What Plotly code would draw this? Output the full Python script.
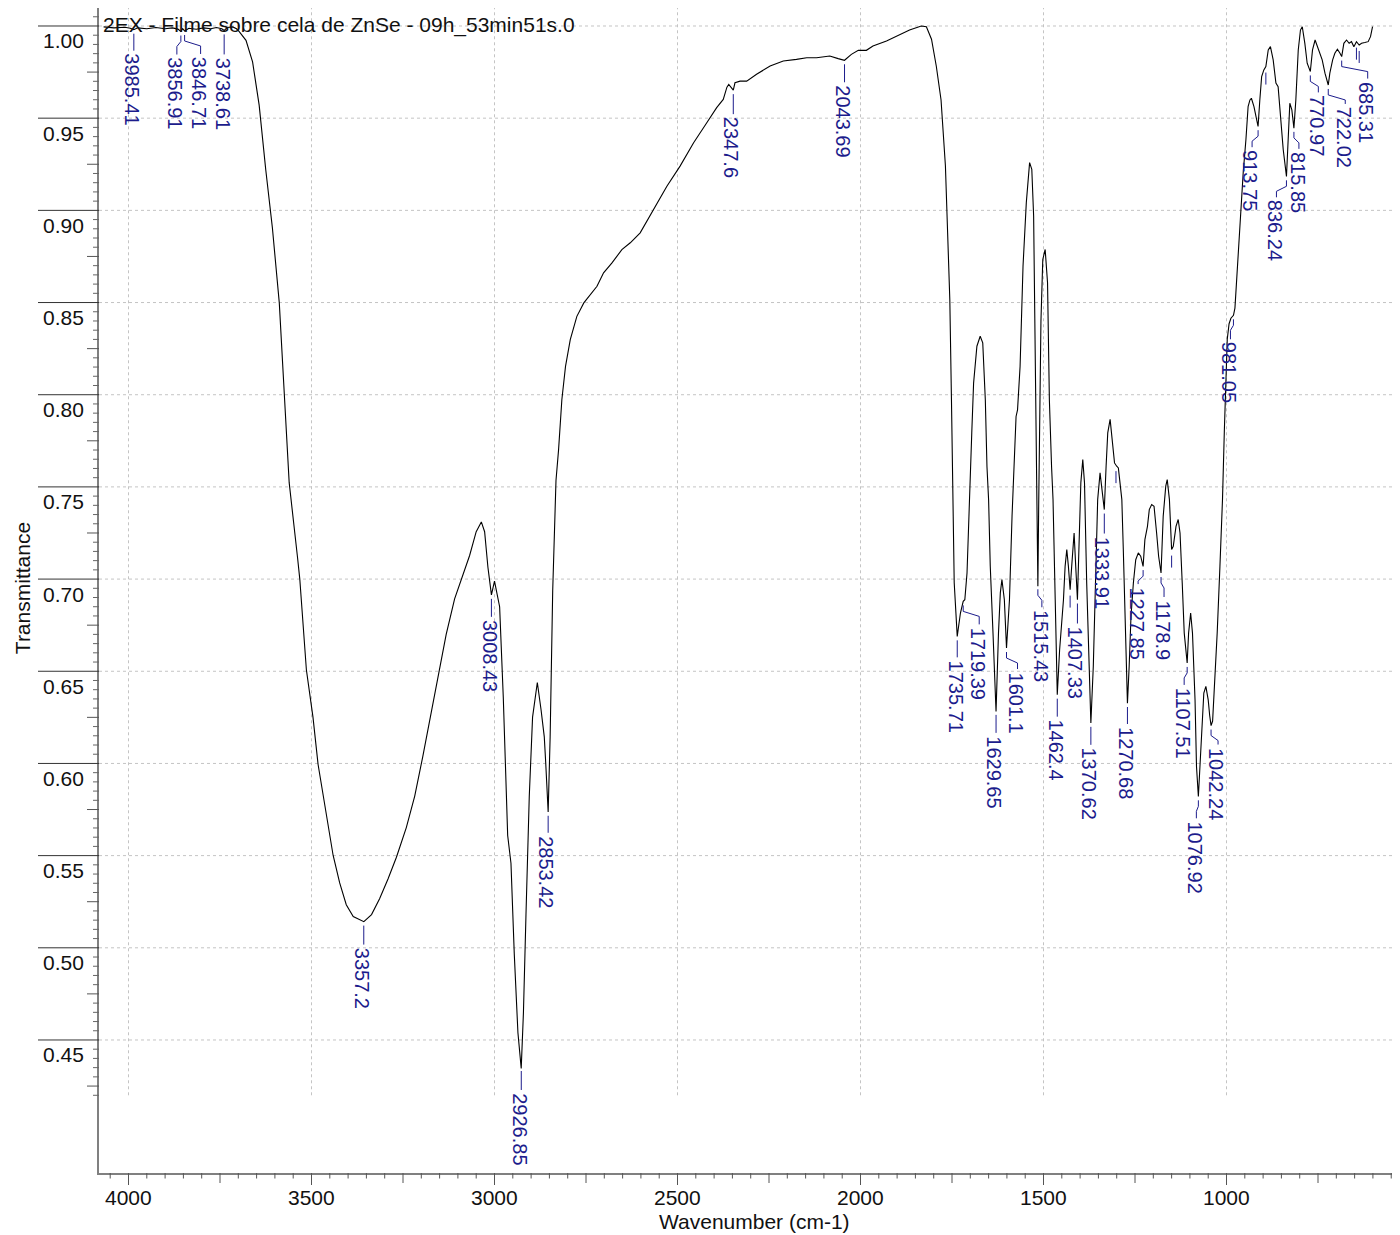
import numpy as np
import plotly.graph_objects as go

# ---------------- data ----------------
wavenumber = [4068, 4040, 4010, 3995, 3985.4, 3975, 3950, 3925, 3900, 3880, 3865, 3856.9, 3852, 3846.7,
              3835, 3815, 3795, 3775, 3760, 3745, 3738.6, 3730, 3715, 3705, 3698, 3679, 3661, 3643, 3625,
              3607, 3588, 3575, 3561, 3538, 3532, 3514, 3496, 3482, 3468, 3455, 3441, 3423, 3405, 3386,
              3357, 3336, 3314, 3291, 3268, 3241, 3218, 3196, 3173, 3150, 3132, 3109, 3086, 3068, 3050,
              3036, 3027, 3018, 3008.4, 3000, 2986, 2976, 2964, 2955, 2946, 2936, 2927, 2921, 2914, 2905,
              2896, 2883, 2873, 2864, 2860, 2853.4, 2848, 2841, 2832, 2825, 2816, 2806, 2793, 2775, 2756,
              2738, 2720, 2702, 2679, 2652, 2629, 2602, 2566, 2529, 2493, 2456, 2420, 2393, 2375, 2365,
              2360, 2355, 2347.6, 2343, 2329, 2311, 2284, 2247, 2211, 2175, 2147, 2120, 2084, 2061, 2043.7,
              2025, 2006, 1984, 1966, 1929, 1893, 1866, 1834, 1820, 1806, 1793, 1780, 1768, 1762, 1756,
              1751.5, 1748, 1744, 1735.7, 1727, 1719.4, 1715, 1709, 1703, 1696, 1691, 1682, 1673, 1666,
              1659, 1654.5, 1650, 1645.5, 1638, 1629.7, 1623, 1618, 1613.6, 1607, 1601.1, 1593, 1586, 1580,
              1575, 1571, 1564, 1556, 1547, 1538, 1532, 1527, 1523, 1520, 1518, 1515.4, 1513, 1510, 1507,
              1502, 1495.5, 1489, 1484, 1478, 1474, 1468, 1462.4, 1456, 1450, 1445.5, 1441, 1436.4, 1432,
              1427.3, 1423, 1416.4, 1412, 1407.3, 1402, 1398, 1392.7, 1388, 1382, 1375.5, 1370.6, 1364,
              1357, 1352, 1345.5, 1341, 1333.9, 1329, 1324.5, 1318, 1312, 1306, 1300, 1295.5, 1291, 1286,
              1282, 1277, 1273, 1270.7, 1266, 1261, 1254.5, 1248, 1241, 1234.5, 1227.9, 1223, 1216, 1211,
              1204.5, 1198, 1191, 1185.5, 1178.9, 1173, 1166, 1162, 1156, 1150, 1145.5, 1138, 1132, 1127,
              1121, 1115.5, 1107.5, 1103.6, 1098, 1093, 1086, 1082, 1076.9, 1073, 1068, 1062, 1056.4, 1050,
              1046, 1042.2, 1038, 1032, 1025.5, 1018, 1011, 1006, 1002, 998, 993, 988, 981, 977, 973, 968,
              962, 954.5, 947, 941, 936, 932, 925, 920, 913.8, 909, 904, 898, 892.5, 886, 880, 872.5, 865,
              859, 852.5, 845, 836.2, 831.5, 827, 821.5, 815.9, 810.6, 804, 798, 793, 786, 779.6, 771, 765,
              758, 751, 745, 738.6, 731, 722, 717.7, 710, 704, 697, 690, 685.3, 679.4, 672, 665, 658.5, 652,
              645, 637.5, 631, 622, 613, 606.6, 601]

transmittance = [0.9995, 0.9990, 0.9993, 0.9988, 0.9980, 0.9990, 0.9985, 0.9992, 0.9985, 0.9990, 0.9983,
                 0.9970, 0.9985, 0.9973, 0.9988, 0.9982, 0.9990, 0.9985, 0.9992, 0.9985, 0.9976, 0.9992,
                 0.9995, 0.9985, 0.9971, 0.9922, 0.9805, 0.9571, 0.9220, 0.8908, 0.8498, 0.8011, 0.7523,
                 0.7114, 0.7000, 0.6508, 0.6251, 0.5994, 0.5823, 0.5652, 0.5502, 0.5352, 0.5234, 0.5170,
                 0.5142, 0.5180, 0.5266, 0.5373, 0.5491, 0.5652, 0.5823, 0.6037, 0.6272, 0.6508, 0.6700,
                 0.6893, 0.7021, 0.7128, 0.7257, 0.7310, 0.7257, 0.7064, 0.6914, 0.6989, 0.6850, 0.6358,
                 0.5609, 0.5459, 0.4967, 0.4539, 0.4346, 0.4646, 0.5180, 0.5823, 0.6251, 0.6439, 0.6294,
                 0.6144, 0.6000, 0.5737, 0.6144, 0.6936, 0.7535, 0.7701, 0.7973, 0.8154, 0.8299, 0.8425,
                 0.8498, 0.8543, 0.8588, 0.8661, 0.8715, 0.8787, 0.8824, 0.8878, 0.9005, 0.9131, 0.9240,
                 0.9367, 0.9475, 0.9557, 0.9602, 0.9668, 0.9683, 0.9672, 0.9652, 0.9692, 0.9701, 0.9701,
                 0.9738, 0.9783, 0.9810, 0.9819, 0.9828, 0.9828, 0.9837, 0.9823, 0.9814, 0.9846, 0.9868,
                 0.9868, 0.9891, 0.9919, 0.9955, 0.9978, 1.0000, 0.9996, 0.9928, 0.9783, 0.9600, 0.9241,
                 0.8879, 0.8516, 0.7973, 0.7429, 0.6980, 0.6689, 0.6816, 0.6879, 0.6888, 0.7033, 0.7431,
                 0.7793, 0.8063, 0.8263, 0.8317, 0.8281, 0.7973, 0.7611, 0.7429, 0.7069, 0.6707, 0.6282,
                 0.6707, 0.6925, 0.6997, 0.6888, 0.6626, 0.6888, 0.7341, 0.7700, 0.7882, 0.7918, 0.8154,
                 0.8697, 0.9042, 0.9259, 0.9223, 0.8969, 0.8335, 0.7974, 0.7431, 0.6961, 0.7431, 0.7900,
                 0.8400, 0.8733, 0.8788, 0.8607, 0.7973, 0.7611, 0.7430, 0.6888, 0.6373, 0.6617, 0.6762,
                 0.6888, 0.7069, 0.7160, 0.7069, 0.6943, 0.7069, 0.7250, 0.7069, 0.6888, 0.7250, 0.7522,
                 0.7648, 0.7522, 0.6979, 0.6526, 0.6219, 0.6526, 0.6979, 0.7431, 0.7576, 0.7504, 0.7377,
                 0.7612, 0.7793, 0.7866, 0.7757, 0.7630, 0.7612, 0.7603, 0.7522, 0.7431, 0.7160, 0.6798,
                 0.6436, 0.6327, 0.6526, 0.6798, 0.6979, 0.7105, 0.7142, 0.7124, 0.7069, 0.7214, 0.7286,
                 0.7377, 0.7404, 0.7395, 0.7250, 0.7124, 0.7033, 0.7341, 0.7504, 0.7540, 0.7431, 0.7160,
                 0.7178, 0.7286, 0.7323, 0.7250, 0.6979, 0.6707, 0.6545, 0.6707, 0.6816, 0.6707, 0.6345,
                 0.5983, 0.5821, 0.5983, 0.6201, 0.6382, 0.6418, 0.6345, 0.6260, 0.6205, 0.6230, 0.6436,
                 0.6707, 0.7069, 0.7431, 0.7800, 0.8120, 0.8300, 0.8385, 0.8415, 0.8431, 0.8470, 0.8600,
                 0.8780, 0.9004, 0.9202, 0.9383, 0.9563, 0.9599, 0.9608, 0.9563, 0.9509, 0.9455, 0.9599,
                 0.9726, 0.9762, 0.9780, 0.9870, 0.9888, 0.9816, 0.9690, 0.9671, 0.9509, 0.9329, 0.9184,
                 0.9419, 0.9581, 0.9545, 0.9446, 0.9599, 0.9870, 0.9978, 0.9996, 0.9906, 0.9798, 0.9753,
                 0.9870, 0.9924, 0.9888, 0.9852, 0.9816, 0.9744, 0.9680, 0.9744, 0.9816, 0.9852, 0.9874,
                 0.9852, 0.9834, 0.9906, 0.9924, 0.9906, 0.9915, 0.9888, 0.9915, 0.9897, 0.9906, 0.9910,
                 0.9915, 0.9942, 0.9996]

peak_text = ["3985.41", "3856.91", "3846.71", "3738.61", "3357.2", "3008.43", "2926.85", "2853.42",
             "2347.6", "2043.69", "1735.71", "1719.39", "1629.65", "1601.1", "1515.43", "1462.4",
             "1407.33", "1370.62", "1333.91", "1270.68", "1227.85", "1178.9", "1107.51", "1076.92",
             "1042.24", "981.05", "913.75", "836.24", "815.85", "770.97", "722.02", "685.31"]

unlabeled_peaks = [1427.3, 1302.0, 1150.0, 892.5, 645.0, 637.5]

x_tick_vals = [4000, 3500, 3000, 2500, 2000, 1500, 1000]
y_tick_vals = [0.45, 0.50, 0.55, 0.60, 0.65, 0.70, 0.75, 0.80, 0.85, 0.90, 0.95, 1.00]

title_text = "2EX - Filme sobre cela de ZnSe - 09h_53min51s.0"
x_title = "Wavenumber (cm-1)"
y_title = "Transmittance"

# ---------------- label layout (pixel offsets, style) ----------------
label_dx = [0, -4, 16, 0, 0, 0, 0, 0, 0, 0, 0, 16, 0, 11, 4, 0, 0, 0, 0, 0, -5, 3, -3, -2, 7, -3,
            -6, -10, 5, 8, 17, 26]
label_top = [24, 26, 26, 27, 26, 25, 26, 24, 27, 25, 24, 26, 25, 24, 25, 25, 27, 25, 27, 24, 21, 27,
             25, 25, 22, 27, 24, 24, 24, 24, 22, 25]

X_RANGE = [4080.6, 526.0]
Y_RANGE = [0.37785, 1.00976]
GRID_BOTTOM = 0.42
BLUE = "#1c1c8c"
FONT = "Liberation Sans, Arial, Helvetica, sans-serif"

wn_asc = np.array(wavenumber[::-1], dtype=float)
t_asc = np.array(transmittance[::-1], dtype=float)

fig = go.Figure()
fig.add_trace(go.Scatter(x=wavenumber, y=transmittance, mode="lines",
                         line=dict(color="black", width=1.1), hoverinfo="skip", showlegend=False))

shapes = []
annotations = []
grid_line = dict(color="#c4c4c4", width=1, dash="dot")

# gridlines
for v in y_tick_vals:
    shapes.append(dict(type="line", xref="paper", yref="y", x0=0, x1=1, y0=v, y1=v,
                       line=grid_line, layer="below"))
for v in x_tick_vals:
    shapes.append(dict(type="line", xref="x", yref="y", x0=v, x1=v, y0=GRID_BOTTOM, y1=Y_RANGE[1],
                       line=grid_line, layer="below"))

# y ticks (left of axis)
for i in range(118):
    v = round(GRID_BOTTOM + 0.005 * i, 3)
    k = round(v / 0.005)
    if k % 10 == 0:
        L, col = 61, "#333333"
    elif k % 5 == 0:
        L, col = 12, "#555555"
    else:
        L, col = 6, "#666666"
    shapes.append(dict(type="line", xref="paper", yref="y", xsizemode="pixel", xanchor=0,
                       x0=-L, x1=0, y0=v, y1=v, line=dict(color=col, width=1)))

# x ticks (below axis)
for i in range(71):
    v = 4050 - 50 * i
    if v % 500 == 0:
        L = 12
    elif v % 250 == 0:
        L = 10
    else:
        L = 5.5
    shapes.append(dict(type="line", xref="x", yref="paper", ysizemode="pixel", yanchor=0,
                       x0=v, x1=v, y0=0, y1=-L, line=dict(color="#555555", width=1)))

# tick labels
for v in y_tick_vals:
    annotations.append(dict(xref="paper", yref="y", x=0, y=v, text=f"{v:.2f}", showarrow=False,
                            xanchor="right", yanchor="middle", xshift=-13, yshift=-15,
                            font=dict(family=FONT, size=21, color="#111111")))
for v in x_tick_vals:
    annotations.append(dict(xref="x", yref="paper", x=v, y=0, text=str(v), showarrow=False,
                            xanchor="center", yanchor="middle", yshift=-24,
                            font=dict(family=FONT, size=21, color="#111111")))

# axis titles
annotations.append(dict(xref="paper", yref="paper", x=0.5035, y=0, text=x_title, showarrow=False,
                        xanchor="center", yanchor="middle", yshift=-48,
                        font=dict(family=FONT, size=21, color="#111111")))
annotations.append(dict(xref="paper", yref="paper", x=0, y=0.502, text=y_title, showarrow=False,
                        textangle=-90, xanchor="center", yanchor="middle", xshift=-77,
                        font=dict(family=FONT, size=21, color="#111111")))

# chart title (inside plot, top-left)
annotations.append(dict(xref="paper", yref="y", x=0, y=1.0, text=title_text, showarrow=False,
                        xanchor="left", yanchor="middle", xshift=2, yshift=1,
                        font=dict(family=FONT, size=21, color="#111111")))

# peak labels with leader lines
for txt, dx, top in zip(peak_text, label_dx, label_top):
    pos = float(txt)
    t = float(np.interp(pos, wn_asc, t_asc))
    if dx == 0:
        path = f"M0,-4 L0,-{top - 3}"
    else:
        path = f"M0,-4 L0,-10 L{dx},-15 L{dx},-{top - 3}"
    shapes.append(dict(type="path", xref="x", yref="y", xsizemode="pixel", ysizemode="pixel",
                       xanchor=pos, yanchor=t, path=path, line=dict(color=BLUE, width=1)))
    annotations.append(dict(xref="x", yref="y", x=pos, y=t, text=txt, showarrow=False, textangle=90,
                            xanchor="center", yanchor="top", xshift=dx - 1.5, yshift=-(top - 2),
                            font=dict(family=FONT, size=20, color=BLUE)))

for pos in unlabeled_peaks:
    t = float(np.interp(pos, wn_asc, t_asc))
    shapes.append(dict(type="path", xref="x", yref="y", xsizemode="pixel", ysizemode="pixel",
                       xanchor=pos, yanchor=t, path="M0,-6 L0,-18", line=dict(color=BLUE, width=1)))

# the page body adds an 8 px margin, so the figure is sized to fill the rest of the window
fig.update_layout(
    width=1392, height=1227,
    margin=dict(l=91, r=0, t=0, b=62),
    paper_bgcolor="white", plot_bgcolor="white",
    template="none",
    showlegend=False,
    shapes=shapes,
    annotations=annotations,
    xaxis=dict(range=X_RANGE, showgrid=False, zeroline=False, showline=True, linecolor="#808080",
               linewidth=2, ticks="", showticklabels=False, fixedrange=True),
    yaxis=dict(range=Y_RANGE, showgrid=False, zeroline=False, showline=True, linecolor="#808080",
               linewidth=2, ticks="", showticklabels=False, fixedrange=True),
)

fig.write_html("out.html")
